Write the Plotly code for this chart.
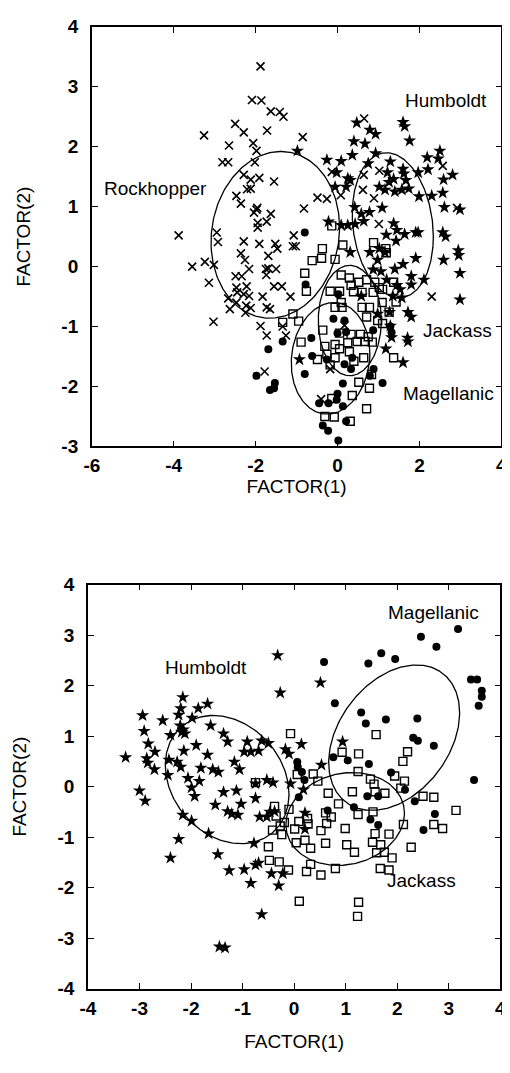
import numpy as np
import plotly.graph_objects as go

# ---------------- Panel 1 data (top) ----------------
rock1_x = [-1.88,-2.09,-1.86,-1.63,-1.41,-1.32,-3.26,-2.50,-2.29,-1.72,
           -2.65,-2.06,-1.98,-0.85,-2.81,-2.67,-2.02,-2.29,-2.12,-1.91,
           -1.55,-2.21,-2.12,-2.47,-2.36,-1.98,-1.96,-2.04,-1.63,-1.95,
           -1.73,-1.95,-0.82,-0.49,-0.26,-3.88,-2.95,-2.92,-2.29,-1.91,
           -1.52,-1.47,-1.69,-1.09,-1.02,-2.36,-2.26,-3.55,-3.24,-3.02,
           -2.16,-1.75,-1.69,-1.50,-1.74,-2.49,-2.34,-3.14,-2.47,-2.22,
           -2.29,-2.45,-2.16,-1.55,-1.36,-1.15,-2.67,-2.47,-2.63,-2.23,
           -2.12,-2.25,-1.73,-1.65,-1.83,-3.03,-1.88,-1.73,-1.34,-1.26,
           -1.78,-0.40,0.17,-0.18,0.65,0.64,1.02,0.62,0.89,0.08,
           -0.14,1.01,2.57,2.92,2.30,-1.07]
rock1_y = [3.34,2.78,2.77,2.59,2.58,2.50,2.19,2.38,2.24,2.27,
           2.02,2.06,1.93,2.16,1.74,1.74,1.74,1.53,1.45,1.48,
           1.42,1.29,1.30,1.18,1.05,0.95,0.98,0.90,0.88,0.73,
           0.75,0.65,0.97,1.15,1.13,0.52,0.57,0.41,0.42,0.38,
           0.38,0.30,0.18,0.34,0.34,0.22,0.11,0.00,0.08,0.03,
           -0.04,-0.04,-0.03,-0.04,-0.14,-0.16,-0.16,-0.27,-0.35,-0.33,
           -0.46,-0.43,-0.49,-0.33,-0.33,-0.50,-0.53,-0.60,-0.71,-0.65,
           -0.69,-0.77,-0.68,-0.71,-0.50,-0.92,-0.99,-1.15,-1.00,-1.15,
           -1.75,-2.21,-0.98,-1.71,2.47,1.53,1.60,1.28,1.14,1.19,
           1.58,0.71,1.68,0.98,-0.50,0.52]

hum1_x = [-0.98,-0.26,0.09,0.36,-0.02,0.25,0.31,-0.06,0.21,0.47,
          0.40,0.67,0.79,0.93,0.93,0.75,1.29,1.60,1.64,1.76,
          1.22,1.26,1.02,1.16,1.37,1.40,1.60,1.62,1.67,1.57,
          1.74,1.97,1.99,2.19,2.21,2.50,2.46,2.81,2.59,2.57,
          2.30,2.61,2.99,2.57,2.64,2.95,2.96,2.59,2.99,2.99,
          0.42,0.58,0.64,0.43,0.09,0.25,-0.22,0.78,1.09,1.37,
          1.45,1.19,1.64,1.91,1.97,1.43,0.79,1.02,1.16,0.31,
          0.98,1.60,1.40,1.91,1.80,2.11,0.87,1.06,1.20,1.45,
          1.53,1.80,1.35,1.57,1.72,1.80,1.71,1.72,0.98,1.27,
          1.29,1.32,1.18,1.60,0.58,-0.93]
hum1_y = [1.93,1.78,1.76,1.86,1.57,1.47,1.44,1.33,1.33,2.40,
          2.09,2.05,2.28,2.21,1.89,1.72,1.75,2.41,2.34,2.10,
          1.57,1.41,1.33,1.28,1.46,1.25,1.63,1.55,1.44,1.28,
          1.30,1.57,1.17,1.82,1.62,1.93,1.80,1.53,1.45,1.23,
          1.18,0.99,0.95,0.57,0.50,0.27,0.19,0.11,-0.11,-0.55,
          0.99,0.88,0.76,0.71,0.69,0.69,0.75,0.91,0.98,0.72,
          0.61,0.53,0.54,0.57,0.57,0.43,0.24,0.30,0.24,0.24,
          0.11,0.04,-0.04,0.14,-0.16,-0.22,-0.05,-0.08,-0.22,-0.31,
          -0.38,-0.30,-0.49,-0.52,-0.76,-0.84,-1.19,-1.25,-0.79,-0.76,
          -0.99,-1.18,-1.37,-1.60,-0.49,-1.55]

jack1_x = [-0.14,0.13,-0.37,-0.39,-0.62,-0.06,-0.80,-0.76,-1.09,-0.95,
           -1.34,0.88,1.18,1.19,0.09,0.29,0.33,0.52,0.71,0.91,
           1.37,-0.18,0.05,0.39,0.60,0.87,1.02,1.10,1.09,1.43,
           0.09,0.11,0.60,0.78,0.71,0.98,1.10,1.26,-0.36,0.05,
           0.33,0.56,0.75,-0.06,0.25,0.48,0.67,0.85,-0.89,-0.31,
           0.05,0.29,0.64,-0.49,-0.26,-0.06,0.40,-0.18,1.37,0.83,
           0.52,0.78,0.36,-0.14,-0.31,-0.08,0.31,0.71,-0.06]
jack1_y = [0.68,0.36,0.30,0.14,0.10,0.12,-0.11,-0.41,-0.79,-0.91,
           -0.93,0.40,0.30,0.23,-0.14,-0.19,-0.31,-0.26,-0.22,-0.26,
           -0.26,-0.41,-0.41,-0.42,-0.43,-0.43,-0.35,-0.38,-0.60,-0.59,
           -0.60,-0.68,-0.68,-0.68,-0.84,-0.90,-0.95,-0.76,-1.06,-1.11,
           -1.13,-1.13,-1.17,-1.30,-1.27,-1.25,-1.25,-1.26,-1.26,-1.33,
           -1.37,-1.42,-1.52,-1.55,-1.46,-1.52,-1.58,-1.64,-1.52,-1.80,
           -1.93,-2.03,-2.15,-2.20,-2.50,-2.51,-2.58,-2.37,-0.68]

mag1_x = [-0.80,-0.78,0.02,-1.34,-1.69,-1.98,-0.80,-1.53,-1.55,-1.65,
          -0.64,-0.62,-0.10,0.17,0.00,0.21,0.36,0.17,0.33,-0.26,
          0.87,0.88,0.79,1.10,1.29,1.32,0.13,0.00,-0.02,0.13,
          -0.45,-0.22,-0.36,-0.23,0.02,0.21]
mag1_y = [0.57,-0.30,-0.46,-1.25,-1.38,-1.82,-1.79,-1.94,-2.03,-2.06,
          -1.19,-1.49,-0.87,-0.90,-1.11,-1.09,-1.52,-1.63,-1.71,-1.55,
          -1.06,-1.71,-1.82,-1.94,-1.00,-1.10,-1.95,-2.12,-2.22,-2.33,
          -2.28,-2.28,-2.65,-2.74,-2.90,-2.58]

# ---------------- Panel 2 data (bottom) ----------------
hum2_x = [-3.27,-3.00,-2.89,-2.94,-2.91,-2.83,-2.86,-2.84,-2.70,-2.71,
          -2.55,-2.40,-2.43,-2.45,-2.27,-2.24,-2.20,-2.16,-2.21,-2.15,
          -2.12,-2.18,-2.14,-2.20,-1.98,-1.86,-1.68,-1.62,-1.90,-2.06,
          -1.99,-1.84,-1.93,-1.81,-1.68,-1.58,-1.47,-1.37,-1.29,-1.37,
          -1.53,-1.29,-1.21,-1.09,-1.12,-1.03,-1.16,-1.06,-0.97,-0.91,
          -0.84,-0.69,-0.63,-0.50,-0.75,-0.75,-0.53,-0.41,-0.67,-0.47,
          -1.99,-2.16,-1.66,-2.24,-2.40,-1.48,-1.26,-0.97,-0.75,-0.69,
          -0.84,-0.44,-0.22,-0.30,-0.78,-0.63,-1.45,-1.34,-0.32,-0.27,
          0.51,-0.17,-0.10,0.14,-0.07,0.18,0.53,0.94,0.21,0.21,
          -0.53,-0.38]
hum2_y = [0.58,-0.08,-0.28,1.41,1.10,0.85,0.56,0.47,0.69,0.34,
          1.31,1.02,0.53,0.23,0.49,1.42,1.55,1.77,1.21,1.13,
          1.05,1.08,0.71,0.39,1.36,1.55,1.64,1.21,0.82,0.17,
          -0.02,0.11,-0.19,0.37,0.63,0.34,0.29,1.05,0.89,-0.11,
          -0.36,-0.49,-0.54,-0.56,-0.08,-0.34,0.49,0.34,0.69,0.89,
          0.69,0.71,0.91,0.86,-0.23,0.06,0.13,0.08,-0.60,-0.50,
          -0.68,-0.56,-0.93,-1.04,-1.41,-1.34,-1.66,-1.64,-1.55,-1.51,
          -1.91,-1.72,-1.72,-1.96,-1.12,-2.53,-3.17,-3.19,2.60,1.86,
          2.06,0.74,0.65,0.84,0.06,-0.06,0.43,0.89,-0.52,-0.84,
          -0.60,-0.49]

mag2_x = [0.58,1.44,1.69,1.96,2.46,2.76,3.18,3.43,3.55,3.64,
          3.64,3.58,0.79,1.30,1.39,1.78,2.39,2.31,2.40,2.71,
          1.45,1.04,0.76,1.88,3.49,1.42,1.63,2.15,2.34,1.16,
          1.48,1.63,2.73,2.51,0.65,0.06,0.07,0.09,0.20,0.15]
mag2_y = [2.47,2.44,2.64,2.53,2.97,2.77,3.12,2.12,2.12,1.90,
          1.78,1.60,1.65,1.47,1.25,1.33,1.35,0.97,0.91,0.81,
          0.45,0.52,0.58,0.28,0.13,-0.19,-0.19,-0.06,-0.29,-0.41,
          -0.65,-0.76,-0.54,-0.86,-0.47,0.49,0.39,-0.21,0.13,0.29]

jack2_x = [-0.07,1.59,0.93,1.25,2.20,2.11,1.24,0.37,0.46,0.06,
           1.48,1.55,1.95,2.14,2.07,1.13,1.57,1.76,2.50,2.71,
           0.66,0.86,1.24,1.53,3.14,0.61,0.72,0.63,-0.10,-0.38,
           -0.35,-0.27,-0.24,-0.42,0.09,0.01,0.26,0.27,0.52,0.99,
           2.12,2.71,2.88,0.04,0.21,0.32,0.61,1.02,1.17,1.57,
           1.84,1.52,1.68,1.60,1.75,1.90,2.27,-0.50,-0.48,-0.29,
           -0.11,0.32,0.24,0.52,0.80,1.67,1.84,0.10,1.25,1.23,
           -0.19,-0.75]
jack2_y = [1.05,1.03,0.68,0.65,0.69,0.50,0.30,0.25,0.11,0.24,
           0.15,0.05,0.21,0.11,-0.03,-0.10,-0.10,-0.13,-0.19,-0.21,
           -0.13,-0.34,-0.55,-0.50,-0.47,-0.52,-0.60,-0.73,-0.45,-0.39,
           -0.58,-0.78,-0.95,-0.86,-0.69,-0.84,-0.63,-0.74,-0.87,-0.83,
           -0.75,-0.75,-0.83,-1.11,-1.06,-1.22,-1.12,-1.15,-1.30,-0.93,
           -0.94,-1.10,-1.15,-1.31,-1.30,-1.41,-1.20,-1.19,-1.46,-1.49,
           -1.65,-1.54,-1.68,-1.75,-1.62,-1.62,-1.65,-2.27,-2.29,-2.57,
           -0.71,0.08]

# ---------------- Ellipses: centre x, centre y, half-width, half-height, phase (deg) ----------------
ell1_cx = [-1.52, 1.35, 0.30, -0.17]
ell1_cy = [0.53, 0.69, -0.90, -1.53]
ell1_rx = [1.57, 0.99, 0.77, 0.96]
ell1_ry = [1.39, 1.21, 0.92, 0.93]
ell1_ph = [85, 99, 90, 85]

ell2_cx = [-1.30, 1.94, 0.99]
ell2_cy = [0.14, 0.97, -0.64]
ell2_rx = [1.20, 1.27, 1.15]
ell2_ry = [1.27, 1.44, 0.92]
ell2_ph = [103, 70, 83]

# ---------------- Labels ----------------
lab1_text = ["Rockhopper", "Humboldt", "Jackass", "Magellanic"]
lab1_x = [-4.44, 2.65, 2.92, 2.71]
lab1_y = [1.30, 2.77, -1.07, -2.11]
lab2_text = ["Magellanic", "Humboldt", "Jackass"]
lab2_x = [2.70, -1.71, 2.48]
lab2_y = [3.45, 2.36, -1.85]

# ---------------- Axes ----------------
x1_ticks = [-6, -4, -2, 0, 2, 4]
y1_ticks = [-3, -2, -1, 0, 1, 2, 3, 4]
x2_ticks = [-4, -3, -2, -1, 0, 1, 2, 3, 4]
y2_ticks = [-4, -3, -2, -1, 0, 1, 2, 3, 4]

W, H = 510, 1073
FONT = "Liberation Sans, Arial, Helvetica, sans-serif"

fig = go.Figure()

def add_points(x, y, xa, ya, symbol, size, lw):
    fig.add_trace(go.Scatter(
        x=x, y=y, mode="markers", xaxis=xa, yaxis=ya, showlegend=False,
        marker=dict(symbol=symbol, size=size, color="black",
                    line=dict(color="black", width=lw))))

def add_ellipses(cx, cy, rx, ry, ph, xa, ya):
    t = np.linspace(0, 2 * np.pi, 240)
    for i in range(len(cx)):
        p = np.deg2rad(ph[i])
        ex = cx[i] + rx[i] * np.cos(t)
        ey = cy[i] + ry[i] * np.cos(t - p)
        fig.add_trace(go.Scatter(x=ex, y=ey, mode="lines", xaxis=xa, yaxis=ya,
                                 showlegend=False, hoverinfo="skip",
                                 line=dict(color="black", width=1.3)))

# top panel
add_points(rock1_x, rock1_y, "x", "y", "x-thin-open", 8, 1.6)
add_points(jack1_x, jack1_y, "x", "y", "square-open", 8, 1.4)
add_points(mag1_x, mag1_y, "x", "y", "circle", 8, 0)
add_points(hum1_x, hum1_y, "x", "y", "star", 10, 0)
add_ellipses(ell1_cx, ell1_cy, ell1_rx, ell1_ry, ell1_ph, "x", "y")

# bottom panel
add_points(jack2_x, jack2_y, "x2", "y2", "square-open", 8, 1.4)
add_points(mag2_x, mag2_y, "x2", "y2", "circle", 8, 0)
add_points(hum2_x, hum2_y, "x2", "y2", "star", 10, 0)
add_ellipses(ell2_cx, ell2_cy, ell2_rx, ell2_ry, ell2_ph, "x2", "y2")

annotations = []
for t, x, y in zip(lab1_text, lab1_x, lab1_y):
    annotations.append(dict(text=t, x=x, y=y, xref="x", yref="y", showarrow=False,
                            font=dict(family=FONT, size=19, color="black")))
for t, x, y in zip(lab2_text, lab2_x, lab2_y):
    annotations.append(dict(text=t, x=x, y=y, xref="x2", yref="y2", showarrow=False,
                            font=dict(family=FONT, size=19, color="black")))

def axis(ticks, rng, dom, anchor, title, standoff, lstand):
    return dict(
        range=rng, domain=dom, anchor=anchor,
        tickvals=ticks, ticktext=[str(v) for v in ticks],
        ticks="inside", ticklen=6, tickwidth=1.2, tickcolor="black",
        showline=True, linecolor="black", linewidth=1.6, mirror="ticks",
        showgrid=False, zeroline=False, ticklabelstandoff=lstand,
        tickfont=dict(family=FONT, size=19, color="black", weight="bold"),
        title=dict(text=title, standoff=standoff,
                   font=dict(family=FONT, size=19, color="black")))

fig.update_layout(
    width=W, height=H,
    margin=dict(l=0, r=0, t=0, b=0),
    paper_bgcolor="white", plot_bgcolor="white",
    showlegend=False,
    xaxis=axis(x1_ticks, [-6, 4], [78 / W, 499 / W], "y", "FACTOR(1)", 4, 1),
    yaxis=axis(y1_ticks, [-3, 4], [1 - 437 / H, 1 - 9 / H], "x", "FACTOR(2)", 26, 8),
    xaxis2=axis(x2_ticks, [-4, 4], [74 / W, 498 / W], "y2", "FACTOR(1)", 16, 2),
    yaxis2=axis(y2_ticks, [-4, 4], [1 - 990 / H, 1 - 578 / H], "x2", "FACTOR(2)", 26, 8),
    annotations=annotations,
)

fig.write_html("out.html")
